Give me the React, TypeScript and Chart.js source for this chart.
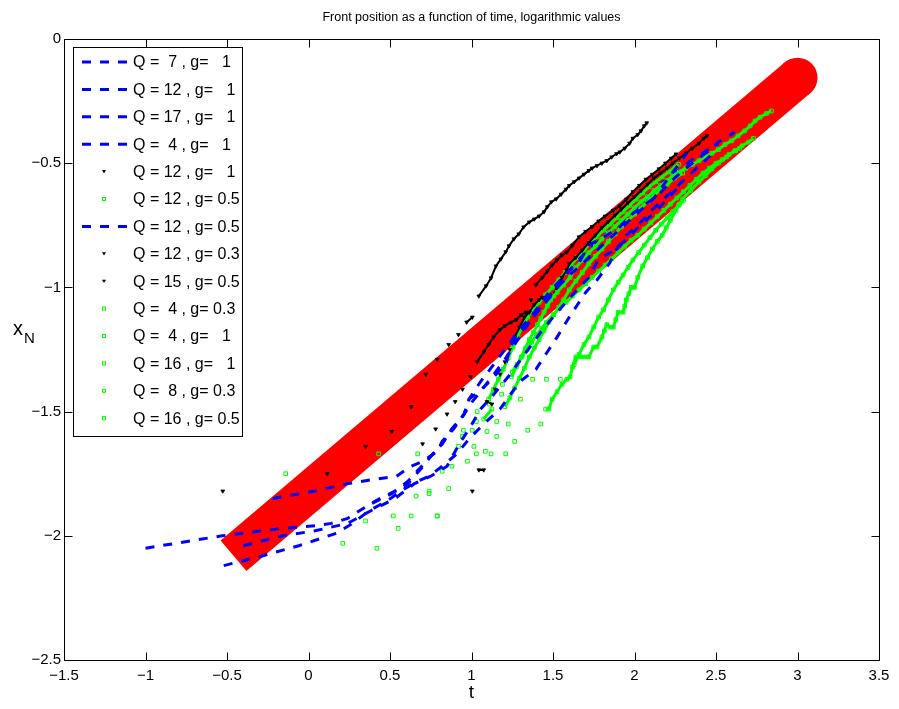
import React, { useEffect, useRef } from "react";
import { Chart, registerables } from "chart.js";
Chart.register(...registerables);

// ---------- data (t = log time, x = log front position) ----------
const fitT = [-0.46, 3.0];
const fitX = [-2.08, -0.156];

const blueQ7g1T = [-1.0, -0.53, -0.16, 0.04, 0.14, 0.24, 0.31, 0.41, 0.53, 0.61, 0.68, 0.75, 0.82, 0.88, 0.955, 0.985, 1.045, 1.125, 1.215, 1.235, 1.315, 1.415, 1.495, 1.6, 1.66, 1.72, 1.83, 1.91, 1.97, 2.05, 2.14, 2.22, 2.315, 2.415, 2.515, 2.615];
const blueQ7g1X = [-2.05, -2.0, -1.97, -1.96, -1.95, -1.93, -1.9, -1.86, -1.82, -1.78, -1.73, -1.68, -1.63, -1.57, -1.51, -1.45, -1.42, -1.37, -1.3, -1.24, -1.17, -1.09, -1.03, -0.93, -0.9, -0.83, -0.79, -0.757, -0.713, -0.672, -0.632, -0.575, -0.52, -0.47, -0.415, -0.375];

const blueQ12g1T = [-0.22, 0.04, 0.24, 0.43, 0.54, 0.63, 0.7, 0.79, 0.82, 0.89, 0.945, 1.005, 1.055, 1.125, 1.205, 1.275, 1.355, 1.435, 1.525, 1.62, 1.72, 1.82, 1.92, 2.02, 2.12, 2.22, 2.32];
const blueQ12g1X = [-1.85, -1.82, -1.79, -1.77, -1.76, -1.72, -1.7, -1.66, -1.62, -1.57, -1.52, -1.46, -1.42, -1.36, -1.29, -1.22, -1.14, -1.07, -1.0, -0.94, -0.88, -0.82, -0.76, -0.7, -0.64, -0.55, -0.46];

const blueQ17g1T = [-0.52, -0.28, -0.06, 0.17, 0.27, 0.37, 0.48, 0.59, 0.67, 0.74, 0.82, 0.91, 0.985, 1.075, 1.175, 1.295, 1.395, 1.465, 1.525, 1.59, 1.65, 1.7, 1.77, 1.85, 1.89, 1.95, 2.02, 2.12, 2.22, 2.315, 2.415, 2.465];
const blueQ17g1X = [-2.12, -2.08, -2.04, -1.99, -1.95, -1.9, -1.86, -1.81, -1.78, -1.76, -1.72, -1.67, -1.61, -1.55, -1.49, -1.38, -1.33, -1.26, -1.2, -1.13, -1.07, -1.02, -0.97, -0.9, -0.845, -0.79, -0.75, -0.68, -0.62, -0.56, -0.5, -0.47];

const blueQ4g1T = [-0.4, -0.16, 0.04, 0.24, 0.38, 0.53, 0.65, 0.75, 0.85, 0.925, 0.995, 1.055, 1.125, 1.225, 1.325, 1.425, 1.525, 1.62, 1.72, 1.78, 1.89, 1.95, 2.02, 2.12, 2.22, 2.265];
const blueQ4g1X = [-2.04, -2.0, -1.98, -1.95, -1.9, -1.85, -1.79, -1.76, -1.72, -1.63, -1.56, -1.49, -1.44, -1.36, -1.27, -1.18, -1.1, -1.03, -0.96, -0.886, -0.845, -0.805, -0.76, -0.7, -0.63, -0.6];

const blueQ12g05T = [0.39, 0.51, 0.61, 0.69, 0.75, 0.82, 0.88, 0.955, 0.985, 1.055, 1.125, 1.205, 1.295, 1.385, 1.475, 1.575, 1.67, 1.77, 1.87, 1.97, 2.07, 2.17, 2.265, 2.365, 2.515];
const blueQ12g05X = [-1.87, -1.83, -1.79, -1.73, -1.68, -1.63, -1.57, -1.51, -1.45, -1.38, -1.32, -1.25, -1.17, -1.1, -1.02, -0.95, -0.88, -0.82, -0.76, -0.7, -0.64, -0.58, -0.53, -0.48, -0.42];

const blackQ12g1T = [-0.526, 0.115, 0.35, 0.51, 0.63, 0.72, 0.79, 0.86, 0.92, 0.97, 1.005, 1.045, 1.09, 1.12, 1.15, 1.18, 1.21, 1.23, 1.26, 1.29, 1.32, 1.355, 1.385, 1.415, 1.445, 1.465, 1.49, 1.52, 1.55, 1.58, 1.6, 1.63, 1.66, 1.69, 1.72, 1.74, 1.77, 1.8, 1.83, 1.86, 1.89, 1.91, 1.94, 1.97, 1.99, 2.02, 2.04, 2.06, 2.075];
const blackQ12g1X = [-1.82, -1.75, -1.64, -1.58, -1.48, -1.35, -1.29, -1.23, -1.19, -1.14, -1.12, -1.035, -0.994, -0.962, -0.914, -0.886, -0.857, -0.833, -0.805, -0.785, -0.757, -0.737, -0.725, -0.713, -0.696, -0.676, -0.656, -0.644, -0.625, -0.605, -0.59, -0.575, -0.56, -0.545, -0.53, -0.52, -0.51, -0.5, -0.49, -0.475, -0.462, -0.455, -0.44, -0.42, -0.4, -0.385, -0.37, -0.35, -0.338];

const blackQ12g03T = [0.7, 0.78, 0.85, 0.9, 0.945, 0.995, 1.035, 1.075, 1.105, 1.135, 1.175, 1.205, 1.245, 1.275, 1.305, 1.335, 1.365, 1.395, 1.435, 1.465, 1.495, 1.525, 1.555, 1.585, 1.62, 1.66, 1.7, 1.74, 1.78, 1.82, 1.87, 1.91, 1.95, 1.99, 2.03, 2.07, 2.11, 2.15, 2.19, 2.225, 2.255];
const blackQ12g03X = [-1.63, -1.57, -1.51, -1.46, -1.41, -1.36, -1.3, -1.26, -1.23, -1.2, -1.17, -1.155, -1.14, -1.13, -1.11, -1.1, -1.05, -0.99, -0.96, -0.935, -0.91, -0.89, -0.87, -0.858, -0.83, -0.797, -0.775, -0.755, -0.733, -0.713, -0.69, -0.672, -0.645, -0.615, -0.59, -0.565, -0.545, -0.523, -0.5, -0.48, -0.463];

const blackQ15g05T = [1.005, 1.045, 1.075, 1.095, 1.125, 1.145, 1.175, 1.205, 1.235, 1.265, 1.295, 1.325, 1.355, 1.385, 1.415, 1.435, 1.465, 1.495, 1.525, 1.555, 1.585, 1.6, 1.64, 1.68, 1.72, 1.76, 1.8, 1.84, 1.88, 1.92, 1.96, 2.0, 2.04, 2.08, 2.12, 2.16, 2.2, 2.235, 2.275, 2.315, 2.355, 2.395, 2.425, 2.445];
const blackQ15g05X = [-1.82, -1.735, -1.735, -1.46, -1.47, -1.41, -1.35, -1.3, -1.25, -1.2, -1.16, -1.12, -1.1, -1.07, -1.05, -1.04, -1.04, -1.04, -1.0, -0.96, -0.93, -0.905, -0.88, -0.85, -0.82, -0.79, -0.76, -0.735, -0.71, -0.685, -0.66, -0.635, -0.61, -0.585, -0.56, -0.54, -0.52, -0.5, -0.48, -0.46, -0.44, -0.42, -0.4, -0.39];

const greenQ12g05T = [-0.14, 0.43, 0.67, 0.92, 1.005, 1.075, 1.125, 1.185, 1.245, 1.275, 1.305, 1.33, 1.355, 1.38, 1.405, 1.425, 1.445, 1.465, 1.485, 1.505, 1.525, 1.565, 1.605, 1.64, 1.68, 1.72, 1.76, 1.8, 1.84, 1.88, 1.92, 1.96, 2.0, 2.04, 2.08, 2.12, 2.16, 2.2, 2.235, 2.275, 2.315, 2.355, 2.395, 2.435, 2.475, 2.515, 2.555, 2.595, 2.635, 2.675, 2.71, 2.74, 2.77, 2.81, 2.84];
const greenQ12g05X = [-1.75, -1.67, -1.67, -1.64, -1.575, -1.53, -1.49, -1.43, -1.36, -1.32, -1.28, -1.245, -1.21, -1.18, -1.15, -1.125, -1.1, -1.075, -1.05, -1.035, -1.02, -0.99, -0.96, -0.92, -0.89, -0.86, -0.835, -0.805, -0.78, -0.755, -0.73, -0.705, -0.68, -0.655, -0.635, -0.61, -0.59, -0.57, -0.55, -0.535, -0.52, -0.505, -0.49, -0.475, -0.46, -0.445, -0.425, -0.41, -0.39, -0.37, -0.35, -0.33, -0.315, -0.3, -0.29];

const greenQ4g03T = [0.42, 0.63, 0.79, 0.86, 1.03, 1.12, 1.21, 1.265, 1.345, 1.425, 1.455, 1.475, 1.495, 1.525, 1.555, 1.585, 1.605, 1.62, 1.64, 1.67, 1.7, 1.72, 1.75, 1.77, 1.8, 1.815, 1.83, 1.85, 1.87, 1.885, 1.9, 1.93, 1.94, 1.95, 1.965, 1.98, 2.0, 2.02, 2.05, 2.08, 2.11, 2.14, 2.17, 2.195, 2.22, 2.255, 2.275, 2.295, 2.345, 2.395, 2.435, 2.475, 2.515, 2.565, 2.615, 2.645];
const greenQ4g03X = [-2.05, -1.92, -1.92, -1.81, -1.67, -1.67, -1.67, -1.62, -1.575, -1.55, -1.49, -1.49, -1.45, -1.42, -1.39, -1.37, -1.36, -1.32, -1.28, -1.28, -1.28, -1.28, -1.24, -1.24, -1.2, -1.175, -1.15, -1.16, -1.16, -1.13, -1.1, -1.1, -1.075, -1.05, -1.025, -1.0, -1.0, -0.96, -0.914, -0.88, -0.845, -0.815, -0.79, -0.76, -0.73, -0.69, -0.665, -0.644, -0.61, -0.576, -0.55, -0.523, -0.5, -0.475, -0.45, -0.44];

const greenQ4g1T = [0.21, 0.52, 0.66, 0.82, 0.945, 1.03, 1.11, 1.19, 1.25, 1.28, 1.31, 1.34, 1.37, 1.4, 1.43, 1.46, 1.5, 1.54, 1.58, 1.62, 1.66, 1.7, 1.74, 1.78, 1.82, 1.86, 1.9, 1.94, 1.98, 2.02, 2.06, 2.1, 2.14, 2.18, 2.22, 2.26, 2.3, 2.34, 2.38, 2.42, 2.46, 2.5, 2.54, 2.58, 2.62, 2.66, 2.7, 2.73];
const greenQ4g1X = [-2.03, -1.92, -1.84, -1.74, -1.6, -1.54, -1.47, -1.39, -1.34, -1.31, -1.28, -1.25, -1.22, -1.19, -1.165, -1.14, -1.11, -1.085, -1.06, -1.035, -1.01, -0.985, -0.96, -0.935, -0.91, -0.885, -0.86, -0.835, -0.81, -0.79, -0.765, -0.74, -0.715, -0.69, -0.665, -0.64, -0.615, -0.59, -0.565, -0.54, -0.52, -0.5, -0.485, -0.465, -0.45, -0.43, -0.415, -0.4];

const greenQ16g1T = [0.35, 0.55, 0.74, 0.88, 0.975, 1.085, 1.155, 1.225, 1.3, 1.375, 1.46, 1.545, 1.63, 1.66, 1.69, 1.72, 1.75, 1.78, 1.81, 1.84, 1.87, 1.9, 1.93, 1.96, 1.99, 2.025, 2.06, 2.095, 2.13, 2.165, 2.2, 2.235, 2.27, 2.3];
const greenQ16g1X = [-1.94, -1.97, -1.82, -1.72, -1.7, -1.66, -1.6, -1.55, -1.45, -1.37, -1.37, -1.37, -1.31, -1.27, -1.23, -1.2, -1.16, -1.12, -1.09, -1.05, -1.01, -0.98, -0.95, -0.92, -0.89, -0.86, -0.83, -0.8, -0.77, -0.745, -0.72, -0.695, -0.67, -0.65];

const greenQ8g03T = [0.79, 0.945, 1.015, 1.095, 1.155, 1.205, 1.235, 1.265, 1.295, 1.325, 1.355, 1.385, 1.415, 1.445, 1.475, 1.505, 1.535, 1.565, 1.6, 1.64, 1.68, 1.72, 1.76, 1.8, 1.84, 1.88, 1.92, 1.96, 2.0, 2.04, 2.08, 2.12, 2.16, 2.2, 2.245, 2.295];
const greenQ8g03X = [-1.92, -1.6, -1.64, -1.58, -1.54, -1.48, -1.445, -1.405, -1.365, -1.325, -1.28, -1.245, -1.21, -1.175, -1.14, -1.11, -1.08, -1.05, -1.01, -0.975, -0.94, -0.905, -0.875, -0.845, -0.815, -0.785, -0.755, -0.73, -0.705, -0.68, -0.655, -0.63, -0.605, -0.585, -0.56, -0.54];

const greenQ16g05T = [0.74, 0.95, 1.035, 1.105, 1.135, 1.165, 1.195, 1.225, 1.255, 1.285, 1.315, 1.345, 1.375, 1.415, 1.455, 1.495, 1.535, 1.575, 1.61, 1.65, 1.69, 1.73, 1.77, 1.81, 1.85, 1.89, 1.93, 1.97, 2.01, 2.05, 2.09, 2.13, 2.17, 2.21, 2.25, 2.27];
const greenQ16g05X = [-1.83, -1.575, -1.5, -1.45, -1.41, -1.37, -1.33, -1.285, -1.24, -1.195, -1.155, -1.12, -1.09, -1.06, -1.03, -1.0, -0.97, -0.94, -0.91, -0.88, -0.85, -0.82, -0.795, -0.77, -0.745, -0.72, -0.695, -0.67, -0.645, -0.62, -0.595, -0.575, -0.555, -0.535, -0.515, -0.505];

const legendLabels = [
  "Q =  7 , g=   1",
  "Q = 12 , g=   1",
  "Q = 17 , g=   1",
  "Q =  4 , g=   1",
  "Q = 12 , g=   1",
  "Q = 12 , g= 0.5",
  "Q = 12 , g= 0.5",
  "Q = 12 , g= 0.3",
  "Q = 15 , g= 0.5",
  "Q =  4 , g= 0.3",
  "Q =  4 , g=   1",
  "Q = 16 , g=   1",
  "Q =  8 , g= 0.3",
  "Q = 16 , g= 0.5",
];
const legendKinds = ["blue", "blue", "blue", "blue", "black", "green", "blue", "black", "black", "green", "green", "green", "green", "green"];

const titleText = "Front position as a function of time, logarithmic values";
const xTicks = [-1.5, -1, -0.5, 0, 0.5, 1, 1.5, 2, 2.5, 3, 3.5];
const yTicks = [-2.5, -2, -1.5, -1, -0.5, 0];

// ---------- helpers ----------
const FONT = "'Liberation Sans', Arial, Helvetica, sans-serif";
const BLUE = "#0000ff";
const GREEN = "#00ff00";
const pts = (t: number[], x: number[]) => t.map((v, i) => ({ x: v, y: x[i] }));
const fmt = (v: number) => (v < 0 ? "\u2212" + String(-v) : String(v));
const far = (c: any, lim: number) => Math.hypot(c.p1.x - c.p0.x, c.p1.y - c.p0.y) > lim;

const blueSet = (t: number[], x: number[]) => ({
  data: pts(t, x),
  showLine: true,
  borderColor: BLUE,
  borderWidth: 3,
  borderDash: [9, 9],
  pointRadius: 0,
  order: 0,
});
const blackSet = (t: number[], x: number[]) => ({
  data: pts(t, x),
  showLine: true,
  borderColor: "#000",
  borderWidth: 2,
  segment: { borderColor: (c: any) => (far(c, 13) ? "rgba(0,0,0,0)" : "#000") },
  pointStyle: "triangle",
  pointRotation: 180,
  pointRadius: 2.2,
  pointBackgroundColor: "#000",
  pointBorderColor: "#000",
  pointBorderWidth: 0.8,
  order: 0,
});
const greenSet = (t: number[], x: number[]) => ({
  data: pts(t, x),
  showLine: true,
  borderColor: GREEN,
  borderWidth: 3,
  segment: { borderColor: (c: any) => (far(c, 13) ? "rgba(0,0,0,0)" : GREEN) },
  pointStyle: "rect",
  pointRadius: 2.6,
  pointBackgroundColor: "rgba(0,0,0,0)",
  pointBorderColor: GREEN,
  pointBorderWidth: 1,
  order: 0,
});

const decorPlugin = {
  id: "decor",
  afterDraw(chart: any) {
    const { ctx, chartArea: a, scales } = chart;
    const sx = scales.x;
    const sy = scales.y;
    ctx.save();
    ctx.strokeStyle = "#000";
    ctx.lineWidth = 1;
    const L = Math.round(a.left) + 0.5;
    const R = Math.round(a.right) + 0.5;
    const T = Math.round(a.top) + 0.5;
    const B = Math.round(a.bottom) + 0.5;
    ctx.beginPath();
    ctx.rect(L, T, R - L, B - T);
    const tl = 8;
    xTicks.forEach((v) => {
      const p = Math.round(sx.getPixelForValue(v)) + 0.5;
      ctx.moveTo(p, B);
      ctx.lineTo(p, B - tl);
      ctx.moveTo(p, T);
      ctx.lineTo(p, T + tl);
    });
    yTicks.forEach((v) => {
      const p = Math.round(sy.getPixelForValue(v)) + 0.5;
      ctx.moveTo(L, p);
      ctx.lineTo(L + tl, p);
      ctx.moveTo(R, p);
      ctx.lineTo(R - tl, p);
    });
    ctx.stroke();

    const cx = (a.left + a.right) / 2;
    ctx.fillStyle = "#000";
    ctx.textAlign = "center";
    ctx.textBaseline = "middle";
    ctx.font = `12.5px ${FONT}`;
    ctx.fillText(titleText, cx, 18);
    ctx.font = `19px ${FONT}`;
    ctx.fillText("t", cx, 693);
    ctx.textAlign = "left";
    ctx.textBaseline = "alphabetic";
    ctx.font = `20px ${FONT}`;
    ctx.fillText("x", 13, 335);
    ctx.font = `15px ${FONT}`;
    ctx.fillText("N", 24, 343);

    // legend
    const lx = 73.5, ly = 47.5, lw = 169, lh = 389;
    ctx.fillStyle = "#fff";
    ctx.fillRect(lx, ly, lw, lh);
    ctx.strokeStyle = "#000";
    ctx.lineWidth = 1;
    ctx.strokeRect(lx, ly, lw, lh);
    legendLabels.forEach((lab, i) => {
      const y = 62 + i * 27.4;
      const kind = legendKinds[i];
      if (kind === "blue") {
        ctx.save();
        ctx.strokeStyle = BLUE;
        ctx.lineWidth = 3;
        ctx.setLineDash([9, 9]);
        ctx.beginPath();
        ctx.moveTo(82, y);
        ctx.lineTo(127, y);
        ctx.stroke();
        ctx.restore();
      } else if (kind === "black") {
        ctx.fillStyle = "#000";
        ctx.beginPath();
        ctx.moveTo(102, y - 1.5);
        ctx.lineTo(106, y - 1.5);
        ctx.lineTo(104, y + 1.8);
        ctx.closePath();
        ctx.fill();
      } else {
        ctx.strokeStyle = GREEN;
        ctx.lineWidth = 1;
        ctx.strokeRect(102.5, y - 1.5, 3, 3);
      }
      ctx.fillStyle = "#000";
      ctx.textAlign = "left";
      ctx.textBaseline = "middle";
      ctx.font = `16px ${FONT}`;
      ctx.fillText(lab, 133, y + 1);
    });
    ctx.restore();
  },
};

export default function App() {
  const ref = useRef<HTMLCanvasElement | null>(null);
  useEffect(() => {
    if (!ref.current) return;
    const datasets: any[] = [
      blueSet(blueQ7g1T, blueQ7g1X),
      blueSet(blueQ12g1T, blueQ12g1X),
      blueSet(blueQ17g1T, blueQ17g1X),
      blueSet(blueQ4g1T, blueQ4g1X),
      blackSet(blackQ12g1T, blackQ12g1X),
      greenSet(greenQ12g05T, greenQ12g05X),
      blueSet(blueQ12g05T, blueQ12g05X),
      blackSet(blackQ12g03T, blackQ12g03X),
      blackSet(blackQ15g05T, blackQ15g05X),
      greenSet(greenQ4g03T, greenQ4g03X),
      greenSet(greenQ4g1T, greenQ4g1X),
      greenSet(greenQ16g1T, greenQ16g1X),
      greenSet(greenQ8g03T, greenQ8g03X),
      greenSet(greenQ16g05T, greenQ16g05X),
      {
        data: pts(fitT, fitX),
        showLine: true,
        borderColor: "#ff0000",
        borderWidth: 40,
        borderCapStyle: "butt",
        pointRadius: [0, 20],
        pointBackgroundColor: "#ff0000",
        pointBorderWidth: 0,
        order: 5,
      },
    ];
    const chart = new Chart(ref.current, {
      type: "scatter",
      data: { datasets },
      options: {
        responsive: false,
        animation: false,
        events: [],
        layout: { padding: { top: 39, right: 19, left: 0, bottom: 0 } },
        plugins: { legend: { display: false }, tooltip: { enabled: false }, title: { display: false } },
        scales: {
          x: {
            type: "linear",
            min: -1.5,
            max: 3.5,
            afterBuildTicks: (s: any) => { s.ticks = xTicks.map((v) => ({ value: v })); },
            afterFit: (s: any) => { s.height = 49; },
            ticks: { callback: (v: any) => fmt(Number(v)), color: "#000", font: { family: FONT, size: 15 }, padding: 7, maxRotation: 0, autoSkip: false },
            grid: { display: false, drawTicks: false },
            border: { display: false },
          },
          y: {
            type: "linear",
            min: -2.5,
            max: 0,
            afterBuildTicks: (s: any) => { s.ticks = yTicks.map((v) => ({ value: v })); },
            afterFit: (s: any) => { s.width = 64; },
            ticks: { callback: (v: any) => fmt(Number(v)), color: "#000", font: { family: FONT, size: 15 }, padding: 3, autoSkip: false },
            grid: { display: false, drawTicks: false },
            border: { display: false },
          },
        },
      } as any,
      plugins: [decorPlugin],
    });
    return () => chart.destroy();
  }, []);
  return (
    <div style={{ position: "fixed", left: 0, top: 0, width: 899, height: 709, background: "#fff" }}>
      <canvas ref={ref} width={899} height={709} style={{ display: "block" }} />
    </div>
  );
}
